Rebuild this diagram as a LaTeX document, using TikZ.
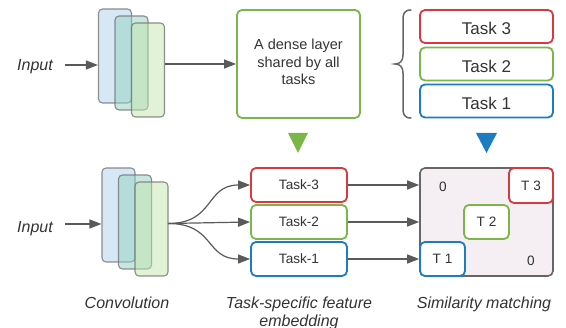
\documentclass[tikz,border=0pt]{standalone}
\usepackage{fontspec}
\setmainfont{Liberation Sans}
\usetikzlibrary{arrows.meta}
\definecolor{txt}{HTML}{333333}
\definecolor{ln}{HTML}{5A5A5A}
\definecolor{tred}{HTML}{D63A40}
\definecolor{tgreen}{HTML}{7AB648}
\definecolor{tblue}{HTML}{1C7CC2}
\definecolor{cA}{HTML}{AED1EC}
\definecolor{cB}{HTML}{90D0C1}
\definecolor{cC}{HTML}{C3E5AD}
\definecolor{matfill}{HTML}{F5EFF3}
\begin{document}
\begin{tikzpicture}[x=1pt,y=-1pt,
  every node/.style={text=txt, inner sep=0pt},
  arr/.style={draw=ln, line width=1.2pt, -{Triangle[length=12pt,width=9pt]}},
  conv/.style={draw=black!55, draw opacity=0.8, line width=1.1pt, rounded corners=4pt,
    minimum width=33pt, minimum height=94pt, fill opacity=0.5},
  tbox/.style={draw=#1, line width=1.8pt, rounded corners=5pt, fill=white},
  lbl/.style={font=\fontsize{16}{18}\selectfont\itshape, align=center},
  big/.style={font=\fontsize{17}{20}\selectfont, text height=16.5pt, text depth=0pt},
  mid/.style={font=\fontsize{13.6}{16}\selectfont},
]
\useasboundingbox (0,0) rectangle (566,328);

% ---------- top row ----------
\node[lbl, anchor=base] (in1) at (35,71) {Input};
\node[conv, fill=cA] (r1) at (115,56) {};
\node[conv, fill=cB] (r2) at (131.5,63) {};
\node[conv, fill=cC] (r3) at (148,70) {};
\draw[arr] (in1.east |- 0,65) ++(12,0) -- (r1.west |- 0,65);

\node[tbox=tgreen, minimum width=123pt, minimum height=108pt] (dense) at (298.5,64) {};
\node[font=\fontsize{14.5}{17.5}\selectfont, align=center] (densetxt) at (298.5,62) {A dense layer\\shared by all\\tasks};
\draw[arr] (dense.west -| r3.east) -- (dense.west);

\draw[draw=black!60, line width=1.5pt, line cap=round]
  (411,10) .. controls (404,10) and (403,14) .. (403,20) -- (403,55)
  .. controls (403,61) and (400,64) .. (395,64)
  .. controls (400,64) and (403,67) .. (403,73) -- (403,108)
  .. controls (403,114) and (404,118) .. (411,118);

\node[tbox=tred, minimum width=133pt, minimum height=33pt, big] (k3) at (486.5,26.5) {Task 3};
\node[tbox=tgreen, minimum width=133pt, minimum height=33pt, big] (k2) at (486.5,64) {Task 2};
\node[tbox=tblue, minimum width=133pt, minimum height=33pt, big] (k1) at (486.5,101) {Task 1};

\fill[tgreen] (288,133) -- (308,133) -- (298,153) -- cycle;
\fill[tblue] (476,133) -- (497,133) -- (486.5,153) -- cycle;

% ---------- bottom row ----------
\node[lbl, anchor=base] (in2) at (35,232.5) {Input};
\node[conv, fill=cA] (r4) at (118.5,215) {};
\node[conv, fill=cB] (r5) at (135,222) {};
\node[conv, fill=cC] (r6) at (151.5,229) {};
\draw[arr] (in2.east |- 0,224) ++(12,0) -- (r4.west |- 0,224);

\coordinate (fan) at (168,223.5);
\node[tbox=tred, minimum width=96pt, minimum height=34pt, mid] (t3) at (299,185) {Task-3};
\node[tbox=tgreen, minimum width=96pt, minimum height=34pt, mid] (t2) at (299,222) {Task-2};
\node[tbox=tblue, minimum width=96pt, minimum height=34pt, mid] (t1) at (299,259) {Task-1};
\draw[arr] (fan) .. controls (215,223.5) and (205,185) .. (t3.west);
\draw[arr] (fan) -- (t2.west);
\draw[arr] (fan) .. controls (215,223.5) and (205,259) .. (t1.west);

\node[draw=black!60, fill=matfill, line width=1.6pt, rounded corners=5pt,
  minimum width=133pt, minimum height=108pt] (mat) at (486.5,222) {};
\draw[arr] (t3.east) -- (t3.east -| mat.west);
\draw[arr] (t2.east) -- (t2.east -| mat.west);
\draw[arr] (t1.east) -- (t1.east -| mat.west);

\node[tbox=tred, minimum width=44pt, minimum height=35pt, mid] (m3) at (531,185.5) {T 3};
\node[tbox=tgreen, minimum width=45pt, minimum height=34pt, mid] (m2) at (486.5,222) {T 2};
\node[tbox=tblue, minimum width=45pt, minimum height=34pt, mid] (m1) at (442.5,259) {T 1};
\node[mid] (z1) at (443,187) {0};
\node[mid] (z2) at (531,261) {0};

\node[lbl, anchor=base] (lconv) at (127,309) {Convolution};
\node[lbl] (lemb) at (299,313.4) {Task-specific feature\\embedding};
\node[lbl, anchor=base] (lsim) at (484,308.5) {Similarity matching};
\end{tikzpicture}
\end{document}
